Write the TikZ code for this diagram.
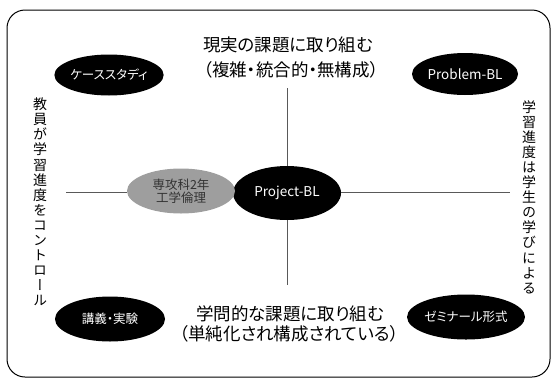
\documentclass[tikz,border=0pt]{standalone}
\usepackage{fontspec}
\setmainfont{Noto Sans CJK JP}
\newfontfamily\cjk{Noto Sans CJK JP}[RawFeature=+palt]
\newfontfamily\cjkv{Noto Sans CJK JP}[RawFeature=+vert]
\usetikzlibrary{shapes.geometric}
\begin{document}
\begin{tikzpicture}[x=1pt,y=-1pt,
  blackell/.style={ellipse, fill=black, text=white, inner sep=0pt, font=\cjk\fontsize{12.5}{14}\selectfont},
  latin/.style={font=\cjk\fontsize{13.5}{15}\selectfont},
  grayell/.style={ellipse, fill=black!38, text=black!80, inner sep=0pt, align=center, font=\cjk\fontsize{12.5}{14.5}\selectfont},
  axis/.style={draw=black!65, line width=0.9pt},
  title/.style={inner sep=0pt, font=\cjk\fontsize{17.5}{20}\selectfont},
  vtext/.style={inner sep=0pt, align=center, font=\cjkv\fontsize{14}{15.1}\selectfont}
]
\useasboundingbox (0,0) rectangle (553,378);
\draw[line width=1pt, rounded corners=18pt] (7,10) rectangle (550,377);

\node[blackell, latin, minimum width=108pt, minimum height=54pt] (pj) at (287,193) {Project-BL};
\node[grayell, minimum width=108pt, minimum height=45pt] (eng) at (181,191) {専攻科2年\\[-1pt]工学倫理};
\node[blackell, minimum width=108pt, minimum height=41pt] (cs) at (109,75) {ケーススタディ};
\node[blackell, latin, minimum width=106pt, minimum height=42pt] (pb) at (465,74) {Problem-BL};
\node[blackell, minimum width=110pt, minimum height=45pt] (lec) at (110,319) {講義・実験};
\node[blackell, minimum width=108pt, minimum height=45pt] (sem) at (466,317) {ゼミナール形式};

\coordinate (top) at (287,88);
\coordinate (bot) at (287,285);
\coordinate (lft) at (66,192);
\coordinate (rgt) at (510,192);
\draw[axis] (top) -- (pj);
\draw[axis] (pj) -- (bot);
\draw[axis] (lft) -- (lft -| eng.west);
\draw[axis] (pj.east |- rgt) -- (rgt);

\node[title] (t1) at (288,45) {現実の課題に取り組む};
\node[title] (t2) at (291,70) {（複雑・統合的・無構成）};
\node[title] (b1) at (290,314) {学問的な課題に取り組む};
\node[title] (b2) at (289,334) {（単純化され構成されている）};

\node[vtext] (lv) at (40,202) {教\\員\\が\\学\\習\\進\\度\\を\\コ\\ン\\ト\\ロ\\ー\\ル};
\node[vtext] (rv) at (529,197) {学\\習\\進\\度\\は\\学\\生\\の\\学\\び\\に\\よ\\る};
\end{tikzpicture}
\end{document}
